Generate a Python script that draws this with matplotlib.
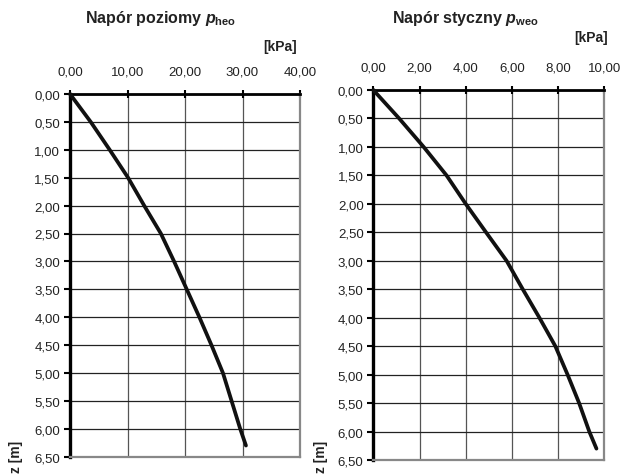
import matplotlib
matplotlib.use("Agg")
import matplotlib.pyplot as plt
import numpy as np
from matplotlib.ticker import FuncFormatter, MultipleLocator

plt.rcParams['font.family'] = ['Liberation Sans', 'DejaVu Sans']
plt.rcParams['mathtext.fontset'] = 'custom'
plt.rcParams['mathtext.rm'] = 'Liberation Sans:bold'
plt.rcParams['mathtext.it'] = 'Liberation Sans:italic:bold'
plt.rcParams['mathtext.bf'] = 'Liberation Sans:bold'

# Data
z_heo = [0.0, 0.5, 1.0, 1.5, 2.0, 2.5, 3.0, 3.5, 4.0, 4.5, 5.0, 5.5, 6.0, 6.3]
p_heo = [0.0, 3.6, 6.9, 10.1, 12.9, 15.8, 18.1, 20.3, 22.5, 24.6, 26.6, 28.1, 29.6, 30.6]

z_weo = [0.0, 0.5, 1.0, 1.5, 2.0, 2.5, 3.0, 3.5, 4.0, 4.5, 5.0, 5.5, 6.0, 6.3]
p_weo = [0.0, 1.12, 2.18, 3.17, 4.0, 4.88, 5.77, 6.47, 7.19, 7.88, 8.41, 8.91, 9.35, 9.66]

left_title = "Napór poziomy $p_{\\mathrm{heo}}$"
right_title = "Napór styczny $p_{\\mathrm{weo}}$"
unit_label = "[kPa]"
z_label = "z [m]"
z_ticks = np.arange(0, 6.51, 0.5)

W, H = 621, 477
fig = plt.figure(figsize=(W / 100, H / 100), dpi=100)

def fx(x):
    return x / W

def fy(y):
    return 1 - y / H

def comma(v, pos):
    return f"{v:.2f}".replace(".", ",")

def setup(ax, xmax, xstep):
    ax.set_xlim(0, xmax)
    ax.set_ylim(6.5, 0)
    ax.xaxis.set_major_locator(MultipleLocator(xstep))
    ax.set_yticks(z_ticks)
    ax.xaxis.set_major_formatter(FuncFormatter(comma))
    ax.yaxis.set_major_formatter(FuncFormatter(comma))
    ax.xaxis.tick_top()
    ax.tick_params(axis='x', direction='inout', length=6, width=1.5, color='black',
                   labelsize=9.5, labelcolor='#222222', pad=9)
    ax.tick_params(axis='y', direction='out', length=4, width=1.5, color='black',
                   labelsize=9.5, labelcolor='#222222', pad=3)
    ax.grid(axis='y', color='#222222', lw=0.9)
    ax.grid(axis='x', color='#555555', lw=0.9)
    ax.set_axisbelow(True)
    ax.spines['left'].set_linewidth(2.4)
    ax.spines['left'].set_color('black')
    ax.spines['top'].set_linewidth(2.0)
    ax.spines['top'].set_color('black')
    ax.spines['right'].set_linewidth(1.6)
    ax.spines['right'].set_color('#888888')
    ax.spines['bottom'].set_linewidth(1.6)
    ax.spines['bottom'].set_color('#888888')

ax1 = fig.add_axes([fx(70), fy(457.7), fx(230), (457.7 - 95) / H])
setup(ax1, 40, 10)
ax1.plot(p_heo, z_heo, color='#111111', lw=2.7, solid_capstyle='round',
         solid_joinstyle='round', zorder=3, clip_on=False)

ax2 = fig.add_axes([fx(373.3), fy(461), fx(231), (461 - 91) / H])
setup(ax2, 10, 2)
ax2.plot(p_weo, z_weo, color='#111111', lw=2.7, solid_capstyle='round',
         solid_joinstyle='round', zorder=3, clip_on=False)

fig.text(fx(161), fy(19), left_title, ha='center', va='center', fontsize=11.5,
         fontweight='bold', color='#222222')
fig.text(fx(465.5), fy(18), right_title, ha='center', va='center', fontsize=11.5,
         fontweight='bold', color='#222222')
fig.text(fx(280), fy(47), unit_label, ha='center', va='center', fontsize=10,
         fontweight='bold', color='#222222')
fig.text(fx(591), fy(38), unit_label, ha='center', va='center', fontsize=10,
         fontweight='bold', color='#222222')
fig.text(fx(16), fy(457), z_label, ha='center', va='center', fontsize=10,
         fontweight='bold', rotation=90, color='#222222')
fig.text(fx(321), fy(457), z_label, ha='center', va='center', fontsize=10,
         fontweight='bold', rotation=90, color='#222222')

fig.savefig("out.png", dpi=100)
